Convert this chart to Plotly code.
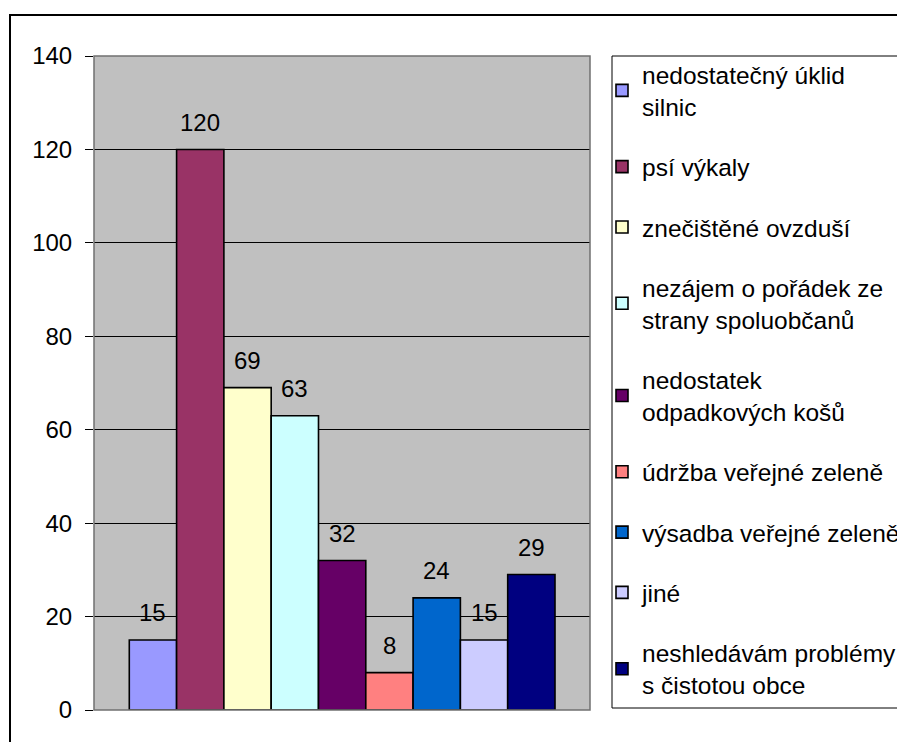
import plotly.graph_objects as go

categories = [
    "nedostatečný úklid\nsilnic",
    "psí výkaly",
    "znečištěné ovzduší",
    "nezájem o pořádek ze\nstrany spoluobčanů",
    "nedostatek\nodpadkových košů",
    "údržba veřejné zeleně",
    "výsadba veřejné zeleně",
    "jiné",
    "neshledávám problémy\ns čistotou obce",
]
values = [15, 120, 69, 63, 32, 8, 24, 15, 29]
colors = ["#9999FF", "#993366", "#FFFFCC", "#CCFFFF", "#660066",
          "#FF8080", "#0066CC", "#CCCCFF", "#000080"]
y_ticks = [0, 20, 40, 60, 80, 100, 120, 140]

FONT = "Liberation Sans, Arial, sans-serif"
OFF = 8                      # page body margin
W, H = 905 - OFF, 742 - OFF
# plot area in page pixels: x 94..590, y 56..710
L, T = 94 - OFF, 56 - OFF
R, B = W - (590 - OFF), H - (710 - OFF)
pw, ph = W - L - R, H - T - B


def px_x(p):
    return (p - OFF - L) / pw


def px_y(p):
    return (H - B - (p - OFF)) / ph


fig = go.Figure()
for i, (name, v, c) in enumerate(zip(categories, values, colors)):
    fig.add_trace(go.Bar(
        x=[i], y=[v], width=1, name=name.replace("\n", "<br>"),
        legendgroup=str(i),
        marker=dict(color=c, line=dict(color="black", width=1.6)),
        hoverinfo="skip",
    ))
    fig.add_annotation(x=i, y=v, text=str(v), showarrow=False,
                       yanchor="middle", yshift=27,
                       font=dict(family=FONT, size=24, color="black"))

shapes = [
    # plot area border
    dict(type="rect", xref="paper", yref="paper", x0=0, y0=0, x1=1, y1=1,
         line=dict(color="#707070", width=1.5), layer="above"),
    # legend box
    dict(type="rect", xref="paper", yref="paper", x0=px_x(612), y0=px_y(708),
         x1=px_x(960), y1=px_y(56), line=dict(color="black", width=1)),
    # chart outer border
    dict(type="rect", xref="paper", yref="paper", x0=px_x(10), y0=px_y(800),
         x1=px_x(1000), y1=px_y(15), line=dict(color="black", width=2)),
]

fig.update_layout(
    width=W, height=H,
    margin=dict(l=L, r=R, t=T, b=B, autoexpand=False),
    paper_bgcolor="white", plot_bgcolor="#C0C0C0",
    barmode="overlay",
    font=dict(family=FONT, size=24, color="black"),
    shapes=shapes,
    showlegend=True,
    legend=dict(x=px_x(602), xanchor="left", y=px_y(52), yanchor="top",
                font=dict(family=FONT, size=24.5, color="black"),
                bgcolor="rgba(0,0,0,0)", borderwidth=0,
                tracegroupgap=25.5, traceorder="grouped", maxheight=720),
    xaxis=dict(range=[-1.246, 9.24], showticklabels=False, ticks="",
               showgrid=False, zeroline=False, showline=False, fixedrange=True),
    yaxis=dict(range=[0, 140], tickvals=y_ticks, ticks="outside", ticklen=8,
               tickcolor="black", tickwidth=1, showgrid=True, gridcolor="black",
               gridwidth=1, zeroline=False, showline=False,
               tickfont=dict(family=FONT, size=24, color="black"),
               ticklabelstandoff=8, fixedrange=True),
)

fig.write_html("out.html")
